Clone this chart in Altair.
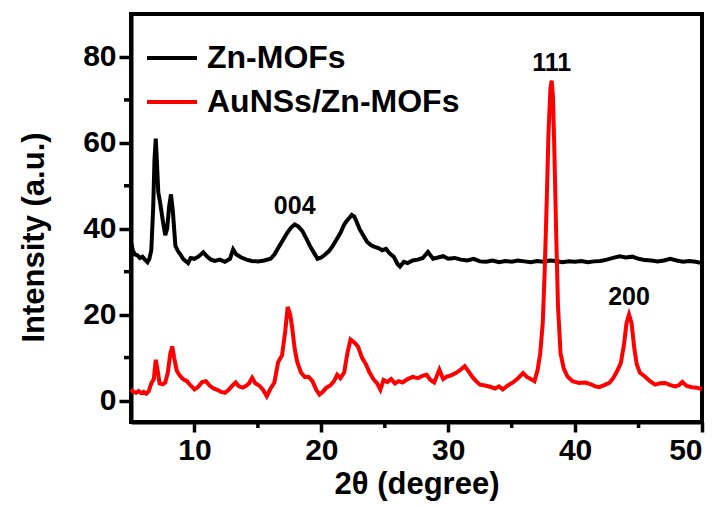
import altair as alt
import pandas as pd

# Zn-MOFs (black)
zn_2theta = [5.0, 5.15, 5.3, 5.5, 5.7, 5.9, 6.1, 6.3, 6.45, 6.6, 6.75, 6.85, 6.95, 7.05, 7.15, 7.3, 7.5, 7.7,
             7.85, 8.0, 8.15, 8.3, 8.5, 8.7, 8.9, 9.1, 9.3, 9.5, 9.7, 10.0, 10.3, 10.7, 11.0, 11.3, 11.6, 12.0,
             12.4, 12.8, 13.05, 13.3, 13.7, 14.1, 14.5, 15.0, 15.5, 16.0, 16.3, 16.6, 17.0, 17.3, 17.6, 17.9,
             18.2, 18.5, 18.8, 19.1, 19.4, 19.7, 20.0, 20.3, 20.6, 20.9, 21.2, 21.5, 21.8, 22.0, 22.2, 22.4,
             22.6, 22.8, 23.0, 23.3, 23.6, 23.9, 24.2, 24.5, 24.8, 25.1, 25.4, 25.7, 26.0, 26.2, 26.5, 26.8,
             27.2, 27.6, 28.0, 28.4, 28.8, 29.2, 29.6, 30.0, 30.5, 31.0, 31.5, 32.0, 32.5, 33.0, 33.5, 34.0,
             34.5, 35.0, 35.5, 36.0, 36.5, 37.0, 37.5, 38.0, 38.5, 39.0, 39.5, 40.0, 40.5, 41.0, 41.5, 42.0,
             42.5, 43.0, 43.5, 44.0, 44.5, 45.0, 45.5, 46.0, 46.5, 47.0, 47.5, 48.0, 48.5, 49.0, 49.5, 50.0]
zn_int = [36.8, 35.0, 34.0, 33.8, 33.2, 33.5, 32.8, 32.2, 33.0, 35.0, 45.0, 56.0, 61.0, 55.0, 48.5, 46.0, 42.0, 38.5,
          40.0, 45.0, 48.0, 44.0, 36.0, 34.8, 34.0, 33.0, 32.5, 32.0, 33.2, 33.0, 33.5, 34.5, 33.5, 32.8, 32.5, 32.8,
          32.3, 33.0, 35.2, 34.0, 33.3, 32.8, 32.5, 32.4, 32.6, 33.0, 34.0, 35.5, 37.5, 39.0, 40.2, 41.0,
          40.5, 39.5, 37.8, 36.0, 34.5, 33.0, 33.3, 34.0, 34.8, 36.0, 37.5, 39.0, 41.0, 41.8, 42.5, 43.2,
          42.8, 41.5, 40.0, 38.5, 37.0, 36.2, 35.8, 35.5, 35.0, 35.3, 34.2, 33.5, 31.8, 31.2, 32.3, 32.0,
          32.6, 32.8, 33.2, 34.6, 33.0, 33.3, 33.6, 33.0, 33.2, 32.8, 32.6, 33.0, 32.4, 32.3, 32.6, 32.2,
          32.5, 32.3, 32.6, 32.4, 32.2, 32.5, 32.3, 32.6, 32.5, 32.2, 32.4, 32.3, 32.5, 32.2, 32.4, 32.5,
          32.8, 33.2, 33.6, 33.3, 33.5, 33.0, 32.7, 32.6, 32.4, 32.6, 33.0, 32.6, 32.3, 32.5, 32.3, 32.0]

# AuNSs/Zn-MOFs (red)
au_2theta = [5.0, 5.2, 5.4, 5.6, 5.8, 6.0, 6.2, 6.4, 6.6, 6.8, 6.95, 7.1, 7.25, 7.5, 7.7, 7.9, 8.1, 8.25, 8.4,
             8.6, 8.8, 9.1, 9.4, 9.7, 10.0, 10.3, 10.6, 10.9, 11.2, 11.5, 11.8, 12.1, 12.4, 12.7, 13.0, 13.25,
             13.5, 13.8, 14.1, 14.3, 14.55, 14.8, 15.1, 15.4, 15.7, 16.0, 16.3, 16.6, 16.9, 17.15, 17.35, 17.55,
             17.7, 17.9, 18.1, 18.4, 18.7, 19.0, 19.3, 19.6, 19.85, 20.1, 20.4, 20.7, 21.0, 21.25, 21.5, 21.8,
             22.05, 22.3, 22.6, 22.9, 23.2, 23.5, 23.8, 24.1, 24.4, 24.65, 24.9, 25.2, 25.5, 25.8, 26.1, 26.4,
             26.8, 27.2, 27.6, 28.0, 28.3, 28.6, 28.9, 29.3, 29.6, 29.9, 30.2, 30.6, 30.9, 31.3, 31.6, 31.9,
             32.2, 32.5, 32.9, 33.3, 33.7, 34.0, 34.3, 34.7, 35.1, 35.5, 35.9, 36.2, 36.5, 36.8, 37.05, 37.25,
             37.45, 37.6, 37.75, 37.9, 38.05, 38.15, 38.25, 38.35, 38.5, 38.65, 38.85, 39.1, 39.4, 39.8, 40.3,
             40.8, 41.2, 41.6, 41.9, 42.3, 42.7, 43.0, 43.3, 43.6, 43.85, 44.05, 44.25, 44.45, 44.65, 44.85,
             45.1, 45.5, 45.9, 46.3, 46.7, 47.1, 47.5, 47.9, 48.2, 48.45, 48.8, 49.2, 49.6, 50.0]
au_int = [2.6, 2.0, 1.8, 2.2, 1.7, 2.0, 1.6, 2.2, 4.0, 5.0, 9.5, 7.0, 4.0, 3.8, 4.2, 6.5, 11.0, 12.6, 10.0,
          7.0, 6.0, 5.0, 4.5, 3.5, 2.6, 3.2, 4.3, 4.5, 3.5, 2.8, 2.5, 2.0, 1.8, 2.5, 3.5, 4.2,
          3.3, 3.0, 3.5, 4.0, 5.3, 4.0, 3.5, 2.5, 1.0, 2.8, 4.2, 9.0, 10.5, 16.0, 21.8, 20.0,
          17.0, 12.0, 9.0, 6.5, 5.5, 5.5, 4.5, 2.5, 1.4, 2.0, 3.0, 3.5, 4.5, 6.0, 5.2, 6.5,
          11.0, 14.2, 13.5, 12.5, 10.0, 8.5, 6.5, 5.0, 4.0, 2.5, 4.8, 4.3, 5.0, 4.0, 4.5, 4.2,
          5.0, 5.5, 5.2, 5.8, 6.0, 4.8, 4.2, 7.2, 5.0, 5.6, 5.8, 6.4, 7.0, 8.0, 6.8, 5.5,
          4.5, 3.7, 3.5, 3.2, 2.8, 3.3, 2.6, 3.5, 4.2, 5.2, 6.4, 5.5, 5.0, 4.5, 7.2, 11.0,
          18.0, 30.0, 45.0, 62.0, 72.5, 74.5, 71.0, 60.0, 40.0, 22.0, 11.0, 7.5, 5.6, 4.5, 4.1,
          4.2, 3.8, 3.3, 3.1, 3.6, 4.1, 5.2, 6.8, 8.7, 13.0, 18.0, 20.0, 18.0, 12.5, 8.5,
          6.5, 5.6, 4.5, 3.7, 4.0, 4.1, 3.6, 3.3, 3.6, 4.3, 3.4, 3.1, 3.0, 2.6]

series_names = ["Zn-MOFs", "AuNSs/Zn-MOFs"]
series_colors = ["#000000", "#ff0000"]

peak_labels = ["004", "111", "200"]
peak_2theta = [17.9, 38.15, 44.25]
peak_int = [41.0, 74.5, 20.0]

x_major = [10, 20, 30, 40, 50]
x_minor = [15, 25, 35, 45]
y_major = [0, 20, 40, 60, 80]
y_minor = [10, 30, 50, 70]

zn_df = pd.DataFrame({"x": zn_2theta, "y": zn_int, "s": series_names[0]})
au_df = pd.DataFrame({"x": au_2theta, "y": au_int, "s": series_names[1]})
peaks_df = pd.DataFrame({"x": peak_2theta, "y": peak_int, "t": peak_labels})
xminor_df = pd.DataFrame({"x": x_minor})
yminor_df = pd.DataFrame({"y": y_minor})

FONT = "Liberation Sans"
axis_style = dict(grid=False, domainColor="black", domainWidth=4, tickColor="black", tickWidth=3.5,
                  labelFont=FONT, labelFontSize=30, labelFontWeight="bold", labelColor="black",
                  titleFont=FONT, titleFontWeight="bold", titleColor="black", labelPadding=3)

x_enc = alt.X("x:Q", scale=alt.Scale(domain=[5, 50], nice=False, zero=False),
              axis=alt.Axis(values=x_major, title="2θ (degree)", tickSize=10, titleFontSize=31,
                            titlePadding=4, **axis_style))
y_enc = alt.Y("y:Q", scale=alt.Scale(domain=[-5, 90], nice=False, zero=False),
              axis=alt.Axis(values=y_major, title="Intensity (a.u.)", tickSize=12, titleFontSize=31,
                            titlePadding=32, titleY=223, **axis_style))
color_enc = alt.Color("s:N", scale=alt.Scale(domain=series_names, range=series_colors),
                      legend=alt.Legend(title=None, orient="none", legendX=14, legendY=17,
                                        symbolType="stroke", symbolSize=2500, symbolStrokeWidth=4,
                                        labelFontSize=32, labelFont=FONT, labelFontWeight="bold",
                                        labelColor="black", labelOffset=8, rowPadding=1, padding=0,
                                        labelLimit=0))

black = alt.Chart(zn_df).mark_line(strokeWidth=4).encode(x=x_enc, y=y_enc, color=color_enc)
red = alt.Chart(au_df).mark_line(strokeWidth=4).encode(x="x:Q", y="y:Q", color=alt.Color("s:N"))
labels = alt.Chart(peaks_df).mark_text(font=FONT, fontSize=25, fontWeight="bold", color="black",
                                       baseline="alphabetic", align="center", dy=-10).encode(
    x="x:Q", y="y:Q", text="t:N")
xminor = alt.Chart(xminor_df).mark_rule(color="black", strokeWidth=3.5).encode(
    x="x:Q", y=alt.value(408), y2=alt.value(414))
yminor = alt.Chart(yminor_df).mark_rule(color="black", strokeWidth=3.5).encode(
    y="y:Q", x=alt.value(0), x2=alt.value(-7))

chart = alt.layer(black, red, labels, xminor, yminor).properties(
    width=571, height=408,
    autosize=alt.AutoSizeParams(type="none"),
    padding={"left": 131, "top": 14, "right": 24, "bottom": 84},
).configure_view(stroke="black", strokeWidth=4)

chart.save("out.html", embed_options={"renderer": "svg", "actions": False})
